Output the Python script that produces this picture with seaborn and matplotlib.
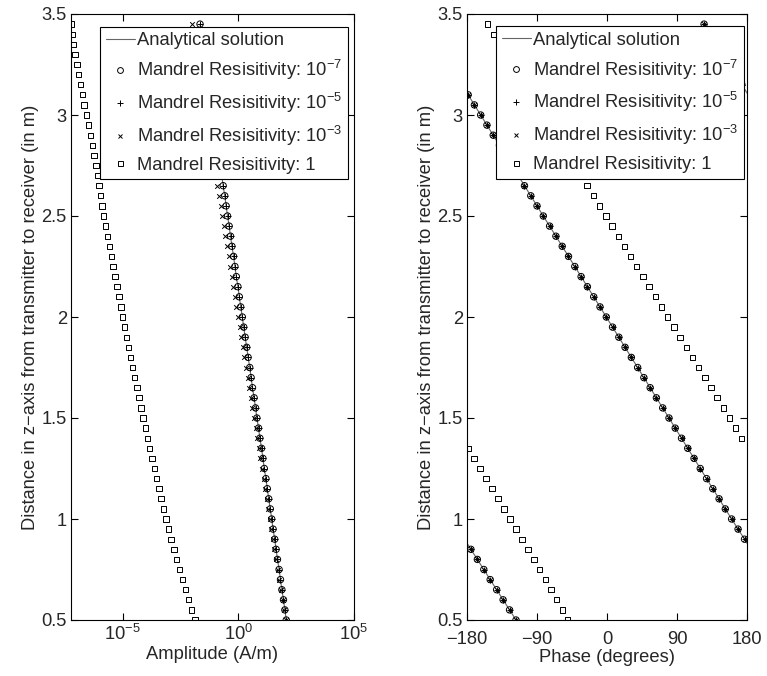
import numpy as np
import matplotlib
matplotlib.use("Agg")
import matplotlib.pyplot as plt
from matplotlib.lines import Line2D
from matplotlib.ticker import FixedLocator, NullLocator, FuncFormatter, LogFormatterSciNotation
import seaborn as sns

# Transmitter-receiver spacing along the z-axis (m)
distance = [0.50, 0.55, 0.60, 0.65, 0.70, 0.75, 0.80, 0.85, 0.90, 0.95,
            1.00, 1.05, 1.10, 1.15, 1.20, 1.25, 1.30, 1.35, 1.40, 1.45,
            1.50, 1.55, 1.60, 1.65, 1.70, 1.75, 1.80, 1.85, 1.90, 1.95,
            2.00, 2.05, 2.10, 2.15, 2.20, 2.25, 2.30, 2.35, 2.40, 2.45,
            2.50, 2.55, 2.60, 2.65, 2.70, 2.75, 2.80, 2.85, 2.90, 2.95,
            3.00, 3.05, 3.10, 3.15, 3.20, 3.25, 3.30, 3.35, 3.40, 3.45]

# log10 of the field amplitude (A/m)
log_amp_analytical = [2.07, 2.01, 1.95, 1.88, 1.82, 1.76, 1.69, 1.63, 1.57, 1.50,
                      1.44, 1.38, 1.31, 1.25, 1.19, 1.12, 1.06, 1.00, 0.93, 0.87,
                      0.80, 0.74, 0.68, 0.61, 0.55, 0.49, 0.42, 0.36, 0.29, 0.23,
                      0.17, 0.10, 0.04, -0.02, -0.09, -0.15, -0.21, -0.28, -0.34, -0.40,
                      -0.47, -0.53, -0.59, -0.66, -0.72, -0.78, -0.85, -0.91, -0.97, -1.03,
                      -1.10, -1.16, -1.22, -1.29, -1.35, -1.41, -1.47, -1.54, -1.60, -1.66]
log_amp_rho_1e7 = [2.07, 2.01, 1.95, 1.88, 1.82, 1.76, 1.69, 1.63, 1.57, 1.50,
                   1.44, 1.38, 1.31, 1.25, 1.19, 1.12, 1.06, 1.00, 0.93, 0.87,
                   0.80, 0.74, 0.68, 0.61, 0.55, 0.49, 0.42, 0.36, 0.29, 0.23,
                   0.17, 0.10, 0.04, -0.02, -0.09, -0.15, -0.21, -0.28, -0.34, -0.40,
                   -0.47, -0.53, -0.59, -0.66, -0.72, -0.78, -0.85, -0.91, -0.97, -1.03,
                   -1.10, -1.16, -1.22, -1.29, -1.35, -1.41, -1.47, -1.54, -1.60, -1.66]
log_amp_rho_1e5 = [2.07, 2.01, 1.95, 1.88, 1.82, 1.76, 1.69, 1.63, 1.57, 1.50,
                   1.44, 1.38, 1.31, 1.25, 1.19, 1.12, 1.06, 1.00, 0.93, 0.87,
                   0.80, 0.74, 0.68, 0.61, 0.55, 0.49, 0.42, 0.36, 0.29, 0.23,
                   0.17, 0.10, 0.04, -0.02, -0.09, -0.15, -0.21, -0.28, -0.34, -0.40,
                   -0.47, -0.53, -0.59, -0.66, -0.72, -0.78, -0.85, -0.91, -0.97, -1.03,
                   -1.10, -1.16, -1.22, -1.29, -1.35, -1.41, -1.47, -1.54, -1.60, -1.66]
log_amp_rho_1e3 = [2.04, 1.97, 1.91, 1.84, 1.77, 1.70, 1.63, 1.56, 1.50, 1.42,
                   1.36, 1.29, 1.22, 1.15, 1.09, 1.01, 0.95, 0.88, 0.81, 0.74,
                   0.67, 0.60, 0.54, 0.46, 0.40, 0.33, 0.26, 0.19, 0.12, 0.05,
                   -0.01, -0.09, -0.15, -0.22, -0.29, -0.36, -0.42, -0.50, -0.56, -0.63,
                   -0.70, -0.77, -0.83, -0.91, -0.97, -1.04, -1.11, -1.18, -1.24, -1.31,
                   -1.38, -1.45, -1.51, -1.59, -1.65, -1.72, -1.79, -1.86, -1.93, -1.99]
log_amp_rho_1 = [-1.87, -2.02, -2.16, -2.29, -2.42, -2.55, -2.68, -2.79, -2.91, -3.02,
                 -3.13, -3.24, -3.34, -3.44, -3.54, -3.64, -3.74, -3.84, -3.94, -4.03,
                 -4.13, -4.22, -4.30, -4.39, -4.49, -4.58, -4.66, -4.75, -4.84, -4.92,
                 -5.01, -5.08, -5.17, -5.25, -5.34, -5.43, -5.50, -5.57, -5.66, -5.74,
                 -5.83, -5.90, -5.97, -6.03, -6.09, -6.16, -6.25, -6.32, -6.41, -6.49,
                 -6.58, -6.67, -6.75, -6.84, -6.91, -6.98, -7.06, -7.12, -7.19, -7.24]

# Phase of the field (degrees, wrapped to [-180, 180])
phase_analytical = [-117.0, -125.3, -133.6, -141.9, -150.2, -158.4, -166.7, -175.0, 176.8, 168.5,
                    160.2, 152.1, 144.1, 136.0, 128.0, 119.9, 111.9, 103.8, 95.8, 87.7,
                    79.7, 71.6, 63.5, 55.5, 47.4, 39.4, 31.3, 23.2, 15.2, 7.1,
                    -0.9, -9.0, -17.1, -25.2, -33.3, -41.4, -49.5, -57.6, -65.7, -73.8,
                    -81.9, -90.0, -98.0, -106.1, -114.1, -122.2, -130.2, -138.3, -146.3, -154.4,
                    -162.4, -170.5, -178.5, 173.4, 165.3, 157.2, 149.1, 141.0, 132.9, 124.8]
phase_rho_1e7 = list(phase_analytical)
phase_rho_1e5 = list(phase_analytical)
phase_rho_1e3 = list(phase_analytical)
phase_rho_1 = [-50.6, -57.6, -64.8, -72.0, -79.3, -86.6, -94.0, -101.5, -109.1, -116.8,
               -124.5, -132.2, -139.9, -147.7, -155.5, -163.3, -171.1, -178.9, 173.2, 165.3,
               157.4, 149.5, 141.6, 133.7, 125.8, 117.9, 110.0, 102.0, 94.0, 86.0,
               78.0, 70.1, 62.1, 54.2, 46.2, 38.3, 30.3, 22.4, 14.4, 6.5,
               -1.5, -9.5, -17.5, -25.5, -33.5, -41.5, -49.5, -57.5, -65.5, -73.5,
               -81.5, -89.5, -97.5, -105.5, -113.5, -121.5, -129.5, -137.5, -145.5, -153.5]

legend_labels = ["Analytical solution",
                 r"Mandrel Resisitivity: $\mathregular{10^{-7}}$",
                 r"Mandrel Resisitivity: $\mathregular{10^{-5}}$",
                 r"Mandrel Resisitivity: $\mathregular{10^{-3}}$",
                 "Mandrel Resisitivity: 1"]
y_ticks = [0.5, 1.0, 1.5, 2.0, 2.5, 3.0, 3.5]
phase_ticks = [-180, -90, 0, 90, 180]
amp_ticks = [1e-5, 1e0, 1e5]

sns.set_theme(style="ticks")
plt.rcParams["font.family"] = ["Liberation Sans", "DejaVu Sans"]
plt.rcParams["mathtext.fontset"] = "custom"
plt.rcParams["mathtext.rm"] = "Liberation Sans"
plt.rcParams["axes.edgecolor"] = "black"
plt.rcParams["axes.linewidth"] = 0.8
FS = 13.2

z = np.array(distance)
amp = {k: 10.0 ** np.array(v) for k, v in {
    "ana": log_amp_analytical, "r7": log_amp_rho_1e7, "r5": log_amp_rho_1e5,
    "r3": log_amp_rho_1e3, "r1": log_amp_rho_1}.items()}

fig = plt.figure(figsize=(7.67, 6.76), dpi=100)
ax1 = fig.add_axes([71 / 767, 1 - 620 / 676, 283 / 767, 606 / 676])
ax2 = fig.add_axes([467 / 767, 1 - 620 / 676, 280 / 767, 606 / 676])

line_kw = dict(color="0.4", linewidth=0.8)
circ_kw = dict(marker="o", s=21, facecolor="none", edgecolor="black", linewidth=0.7, zorder=3)
plus_kw = dict(marker="+", s=22, color="black", linewidth=0.7, zorder=3)
x_kw = dict(marker="x", s=11, color="black", linewidth=0.7, zorder=3)
sq_kw = dict(marker="s", s=15, facecolor="none", edgecolor="black", linewidth=0.7, zorder=3)

# --- Amplitude panel ---
ax1.set_xscale("log")
sns.lineplot(x=amp["ana"], y=z, sort=False, estimator=None, ax=ax1, **line_kw)
sns.scatterplot(x=amp["r7"], y=z, ax=ax1, **circ_kw)
sns.scatterplot(x=amp["r5"], y=z, ax=ax1, **plus_kw)
sns.scatterplot(x=amp["r3"], y=z, ax=ax1, **x_kw)
sns.scatterplot(x=amp["r1"], y=z, ax=ax1, **sq_kw)
ax1.set_xlim(amp["r1"].min(), 1e5)
ax1.xaxis.set_major_locator(FixedLocator(amp_ticks))
ax1.xaxis.set_minor_locator(NullLocator())
ax1.xaxis.set_major_formatter(LogFormatterSciNotation())
ax1.set_xlabel("Amplitude (A/m)", fontsize=FS, labelpad=1)

# --- Phase panel: unwrapped analytic curve drawn on every 360-degree branch ---
ph_unwrapped = np.rad2deg(np.unwrap(np.deg2rad(phase_analytical)))
for shift in (-360, 0, 360, 720):
    sns.lineplot(x=ph_unwrapped + shift, y=z, sort=False, estimator=None, ax=ax2, **line_kw)
sns.scatterplot(x=phase_rho_1e7, y=z, ax=ax2, **circ_kw)
sns.scatterplot(x=phase_rho_1e5, y=z, ax=ax2, **plus_kw)
sns.scatterplot(x=phase_rho_1e3, y=z, ax=ax2, **x_kw)
sns.scatterplot(x=phase_rho_1, y=z, ax=ax2, **sq_kw)
ax2.set_xlim(-180, 180)
ax2.set_xticks(phase_ticks)
ax2.set_xticklabels([f"{t}".replace("-", "\u2212") for t in phase_ticks])
ax2.set_xlabel("Phase (degrees)", fontsize=FS, labelpad=1)

handles = [Line2D([], [], **line_kw),
           Line2D([], [], marker="o", ls="none", ms=4.2, mfc="none", mec="black", mew=0.7),
           Line2D([], [], marker="+", ls="none", ms=4.2, color="black", mew=0.7),
           Line2D([], [], marker="x", ls="none", ms=3.0, color="black", mew=0.7),
           Line2D([], [], marker="s", ls="none", ms=3.6, mfc="none", mec="black", mew=0.7)]

for ax, anchor, xpad in ((ax1, (0.978, 0.979), 3), (ax2, (0.989, 0.980), 8)):
    ax.set_ylim(0.5, 3.5)
    ax.set_yticks(y_ticks)
    ax.yaxis.set_major_formatter(FuncFormatter(lambda v, p: f"{v:g}"))
    ax.set_ylabel("Distance in z\u2212axis from transmitter to receiver (in m)", fontsize=FS, labelpad=2)
    ax.tick_params(axis="both", which="both", direction="in", top=True, right=True,
                   length=5, width=0.8, labelsize=FS, color="black")
    ax.tick_params(axis="y", pad=3)
    ax.tick_params(axis="x", pad=xpad)
    for sp in ax.spines.values():
        sp.set_visible(True)
        sp.set_color("black")
        sp.set_linewidth(0.8)
    leg = ax.legend(handles, legend_labels, loc="upper right", bbox_to_anchor=anchor,
                    borderaxespad=0, fontsize=FS, frameon=True, fancybox=False,
                    framealpha=1, edgecolor="black", handlelength=1.6,
                    handletextpad=0.12, labelspacing=0.48, borderpad=0.3)
    leg.get_frame().set_linewidth(0.8)
    leg.set_zorder(10)

fig.savefig("out.png", dpi=100, facecolor="white")
